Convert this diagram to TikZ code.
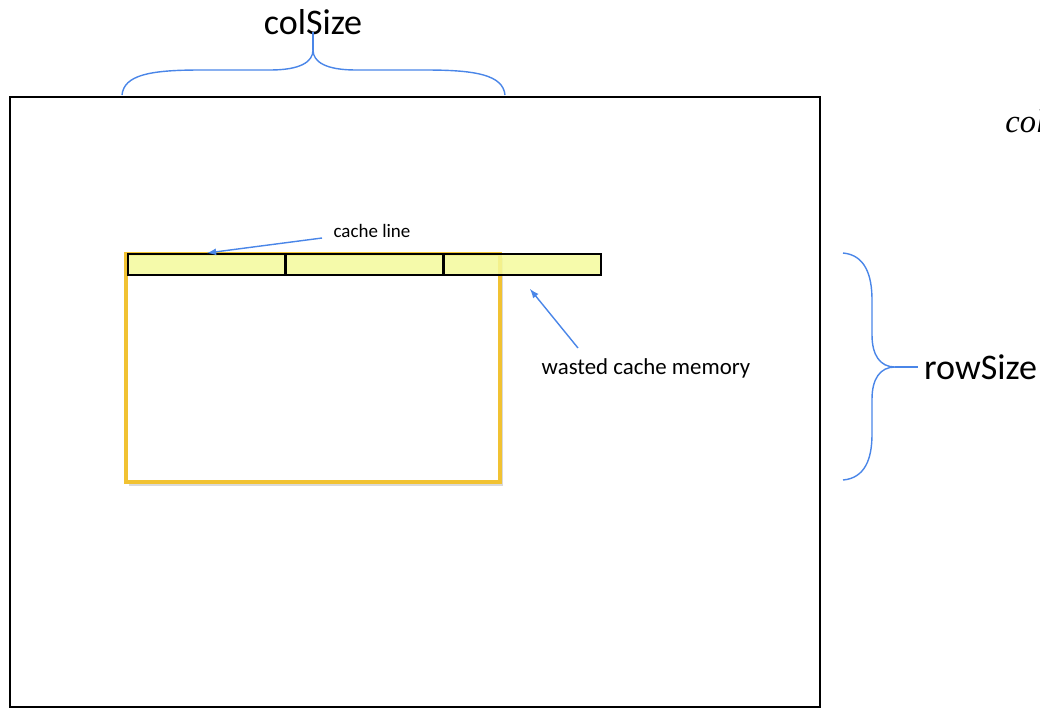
\documentclass[tikz,border=0pt]{standalone}
\usepackage{fontspec}
\setmainfont{Carlito}
\newfontfamily\serifit{Liberation Serif}
\usepackage{xcolor}
\usetikzlibrary{arrows}
\usetikzlibrary{shadows}
\definecolor{bracebl}{RGB}{74, 134, 232}
\definecolor{linefill}{RGB}{244, 250, 156}
\definecolor{blockyel}{RGB}{241, 194, 50}
\tikzset{cachecell/.style={draw, line width=0.9pt, fill=linefill, fill opacity=0.85, inner sep=0pt, anchor=north west, minimum height=21*0.567pt, minimum width=158*0.567pt}}
\tikzset{bracepen/.style={bracebl, line width=0.8pt}}

\begin{document}
\begin{tikzpicture}[x=0.02cm, y=-0.02cm]
        \useasboundingbox (0,0) rectangle (1040,708);
        % matrix
        \draw[black, line width=1.1pt] (10,97) rectangle (820,707);
        % block
        \draw[blockyel, line width=1.8pt, fill=white, drop shadow={shadow xshift=1.5pt, shadow yshift=-2.5pt, opacity=0.3}] (126,254) rectangle (500,482);
        % cache line
        \node[cachecell] (l1) at (127,253) {};
        \node[cachecell] (l2) at (285,253) {};
        \node[cachecell] (l3) at (443,253) {};
        % labels
        \node[font=\fontsize{20.5}{24}\selectfont] (colsize) at (313,22) {colSize};
        \node[font=\fontsize{20.5}{24}\selectfont, anchor=west] (rowsize) at (918,367) {rowSize};
        \node[font=\fontsize{10.8}{13}\selectfont] (linelbl) at (372,231) {cache line};
        \node[font=\fontsize{13}{15}\selectfont] (wastelbl) at (646,368) {wasted cache memory};
        \node[font=\fontsize{18.5}{22}\serifit\itshape, anchor=base west, inner sep=0pt] (coltxt) at (1005,132) {col};
        % braces
        \coordinate (ctip) at (313,50);
        \coordinate (rtip) at (895,367);
        \draw[bracepen] (122,95) .. controls (124,75) and (150,70) .. (200,70) -- (270,70) .. controls (300,70) and (313,62) .. (ctip)
                .. controls (313,62) and (326,70) .. (356,70) -- (426,70) .. controls (476,70) and (503,75) .. (505,95);
        \draw[bracepen] (ctip) -- (313,32);
        \draw[bracepen] (843,253) .. controls (865,255) and (872,275) .. (872,300) -- (872,335) .. controls (872,355) and (880,367) .. (rtip)
                .. controls (880,367) and (872,379) .. (872,399) -- (872,434) .. controls (872,459) and (865,478) .. (843,480);
        \draw[bracepen] (rtip) -- (rowsize.west);
        % arrows
        \draw[bracepen, -latex] (322,238) -- (207,253);
        \draw[bracepen, -latex] (578,348) -- (530,289);
\end{tikzpicture}
\end{document}
